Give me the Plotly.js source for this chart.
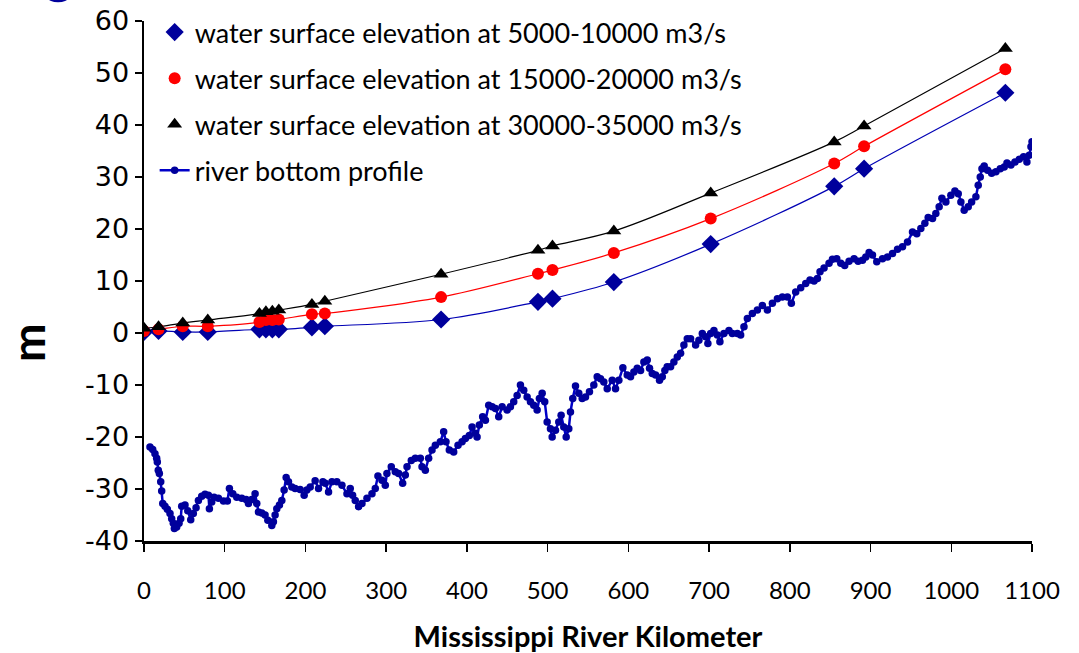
<!DOCTYPE html>
<html>
<head>
<meta charset="utf-8">
<script src="https://cdn.plot.ly/plotly-3.0.1.min.js"></script>
<style>html,body{margin:0;padding:0;background:#fff}</style>
</head>
<body>
<div id="chart" style="width:1079px;height:653px"></div>
<script>
// Gauge stations (river km) where water surface elevations were computed
var stationKm = [0, 18, 48, 79, 143, 151, 159, 167, 208, 224, 368, 488, 506, 582, 702, 855, 892, 1067];

// Water surface elevation (m) for three discharge ranges
var wsLow  = [0.2, 0.4, 0.2, 0.2, 0.7, 0.7, 0.7, 0.7, 1.1, 1.3, 2.6, 6.0, 6.6, 9.8, 17.1, 28.2, 31.6, 46.2];
var wsMid  = [0.4, 0.7, 1.3, 1.3, 2.1, 2.5, 2.5, 2.6, 3.6, 3.75, 6.9, 11.4, 12.1, 15.4, 22.0, 32.6, 35.9, 50.7];
var wsHigh = [0.9, 1.2, 1.9, 2.5, 3.75, 4.1, 4.2, 4.4, 5.5, 6.1, 11.3, 15.9, 16.75, 19.6, 26.9, 36.75, 39.8, 54.7];

// Thalweg (river bottom) survey
var bottomKm = [
  7.4, 10.8, 13.6, 15.7, 16.5, 17.7, 19.0, 20.7, 21.9, 23.2, 26.0, 28.9, 32.2, 34.3, 36.3, 37.6, 40.5, 43.4, 45.5, 46.7,
  50.8, 54.2, 57.9, 61.1, 64.5, 67.4, 71.5, 75.6, 79.8, 81.0, 83.9, 86.8, 92.2, 98.4, 103.3, 105.8, 110.0, 114.9, 121.1, 126.5,
  129.4, 133.5, 137.6, 139.7, 141.8, 145.9, 150.0, 153.4, 158.3, 160.3, 162.4, 164.5, 167.8, 170.7, 173.6, 176.1, 179.0, 183.1, 187.2, 193.4,
  198.4, 201.7, 205.9, 212.0, 216.2, 221.6,
  224.5, 228.6, 232.8, 238.9, 245.2, 251.4, 255.5, 258.4, 261.7, 265.8, 270.0, 276.2, 282.4, 286.5, 289.8, 294.8, 298.9, 300.9,
  306.3, 311.3, 315.4, 320.4, 323.7, 325.8, 331.1, 336.1, 342.3, 344.4, 348.5, 352.6, 356.8, 360.9, 367.1, 371.2, 374.1, 378.2,
  383.6, 389.0, 394.0, 398.1, 403.0, 406.4, 410.5, 412.6, 415.4, 419.5, 422.9, 427.0, 431.2, 435.3, 439.4, 443.6, 449.8, 453.9,
  458.0, 462.2,
  466.3, 470.4, 474.6, 478.7, 482.8, 487.0, 489.8, 493.2, 496.4, 499.4, 503.5, 505.6, 509.7, 513.8, 516.7, 520.0, 523.0, 526.2,
  528.3, 531.1, 534.5, 538.6, 542.8, 546.9, 551.8, 557.2, 561.4, 565.5, 569.6, 573.8, 580.0, 584.1, 588.2, 593.2, 598.6, 602.7,
  606.8, 611.0, 615.1, 619.2, 623.4, 626.2, 629.6, 633.7, 638.6, 642.0, 645.2, 648.1, 652.3, 656.4, 660.6, 664.7, 668.8, 673.0,
  677.1, 683.3, 687.4,
  691.6, 695.7, 698.5, 701.9, 706.0, 710.2, 713.4, 718.4, 724.6, 728.8, 735.0, 739.1, 743.2, 747.4, 753.6, 759.8, 766.0, 772.2,
  778.4, 784.6, 790.8, 797.0, 801.9, 807.3, 813.5, 819.7, 825.0, 830.0, 834.2, 837.4, 842.4, 848.6, 852.8, 858.1, 863.1, 868.0,
  873.4, 879.6, 884.6, 890.0, 894.1, 898.2, 902.4, 907.7,
  914.8, 921.0, 927.2, 933.4, 939.6, 945.8, 952.0, 957.3, 962.3, 967.3, 971.4, 976.8, 980.9, 985.0, 988.4, 993.3, 999.5, 1004.5,
  1008.6, 1011.9, 1016.0, 1021.0, 1025.2, 1030.5, 1033.4, 1035.9, 1038.0, 1040.8, 1045.0, 1050.0, 1055.3, 1060.7, 1065.6, 1069.0,
  1073.9, 1078.9, 1084.2, 1089.6, 1093.7, 1096.6, 1098.7, 1100.0
];
var bottomElev = [
  -21.9, -22.4, -23.2, -24.1, -24.8, -26.4, -27.0, -28.6, -30.4, -32.8, -33.3, -33.9, -34.7, -35.7, -36.6, -37.6, -37.3, -36.6, -35.7, -33.3,
  -33.1, -34.2, -35.9, -34.7, -33.6, -32.2, -31.4, -31.0, -31.2, -33.8, -32.5, -31.6, -31.8, -32.3, -32.3, -29.9, -30.9, -31.6, -31.8, -32.0,
  -32.8, -32.0, -30.9, -32.8, -34.4, -34.6, -35.0, -36.0, -37.0, -36.3, -35.0, -33.8, -33.1, -32.2, -30.2, -27.8, -28.6, -29.6, -29.9, -30.1,
  -31.2, -30.2, -29.6, -28.4, -29.9, -28.6,
  -28.9, -30.6, -28.6, -28.6, -29.3, -30.9, -29.9, -31.2, -32.2, -33.4, -32.8, -31.8, -30.9, -29.9, -27.5, -28.3, -29.3, -27.0,
  -25.7, -26.7, -27.0, -28.9, -27.3, -25.7, -24.5, -24.1, -24.1, -25.7, -26.4, -24.1, -22.5, -21.6, -20.9, -19.0, -20.9, -22.5,
  -22.9, -21.6, -20.9, -20.3, -19.7, -18.1, -19.3, -20.0, -17.7, -16.1, -16.8, -13.9, -14.2, -14.5, -16.1, -14.2, -14.8, -14.2,
  -13.2, -12.0,
  -10.0, -11.0, -12.3, -13.2, -13.9, -14.8, -12.6, -11.6, -13.2, -17.1, -18.4, -20.0, -18.7, -17.1, -15.8, -18.1, -20.0, -18.4,
  -15.2, -12.6, -10.2, -11.6, -12.6, -12.3, -11.3, -10.0, -8.4, -8.8, -9.4, -10.7, -9.1, -10.7, -9.1, -6.7, -8.1, -8.4,
  -7.5, -6.8, -7.2, -5.6, -5.2, -6.8, -7.8, -8.1, -9.1, -8.4, -7.2, -6.5, -6.5, -5.6, -4.6, -3.9, -2.3, -1.1,
  -1.1, -2.3, -1.4,
  -0.1, -0.7, -2.0, -0.1, 0.5, -0.4, -1.7, -0.1, 0.5, -0.1, -0.1, -0.4, 1.2, 2.8, 3.75, 4.4, 5.3, 4.4,
  5.7, 6.6, 6.9, 6.9, 5.7, 7.9, 8.7, 9.5, 10.2, 10.0, 10.5, 11.8, 12.5, 13.4, 14.2, 14.3, 13.4, 13.0,
  13.8, 14.3, 13.8, 14.0, 14.6, 15.5, 15.0, 13.7,
  14.3, 14.6, 15.3, 16.1, 16.6, 17.5, 19.4, 19.1, 20.1, 21.1, 22.2, 22.0, 23.0, 24.3, 25.9, 25.2, 26.5, 27.3,
  26.8, 25.2, 23.6, 24.3, 25.2, 26.2, 28.4, 30.0, 31.6, 32.1, 31.3, 30.7, 31.0, 31.6, 31.9, 32.7,
  32.3, 32.9, 33.4, 33.9, 32.9, 34.2, 35.8, 36.8
];

var seriesNames = [
  'water surface elevation at 5000-10000 m3/s',
  'water surface elevation at 15000-20000 m3/s',
  'water surface elevation at 30000-35000 m3/s',
  'river bottom profile'
];

// Axis ticks, labelled with a plain hyphen for negatives
var yTicks = [-40, -30, -20, -10, 0, 10, 20, 30, 40, 50, 60];
var yTickText = yTicks.map(function (v) { return String(v); });
var xTicks = [0, 100, 200, 300, 400, 500, 600, 700, 800, 900, 1000, 1100];

var NAVY = '#00009C';

function curve(y, color) {
  return {
    x: stationKm, y: y, type: 'scatter', mode: 'lines',
    line: {color: color, width: 1.2, shape: 'spline', smoothing: 1},
    showlegend: false, hoverinfo: 'skip'
  };
}

var traces = [
  curve(wsLow, '#0000B4'),
  curve(wsMid, '#FF0000'),
  curve(wsHigh, '#000000'),
  {
    x: stationKm, y: wsLow, type: 'scatter', mode: 'markers', name: seriesNames[0], legendgroup: 'a',
    marker: {symbol: 'diamond', size: 14, color: NAVY}
  },
  {
    x: stationKm, y: wsMid, type: 'scatter', mode: 'markers', name: seriesNames[1], legendgroup: 'b',
    marker: {symbol: 'circle', size: 12, color: '#FF0000'}
  },
  {
    x: stationKm, y: wsHigh, type: 'scatter', mode: 'markers', name: seriesNames[2], legendgroup: 'c',
    marker: {symbol: 'triangle-up', size: 13, color: '#000000'}
  },
  {
    x: bottomKm, y: bottomElev, type: 'scatter', mode: 'lines+markers', name: seriesNames[3], legendgroup: 'd',
    line: {color: '#0000C8', width: 2.5},
    marker: {symbol: 'circle', size: 7.5, color: NAVY}
  }
];

var layout = {
  width: 1079, height: 653,
  paper_bgcolor: '#ffffff', plot_bgcolor: '#ffffff',
  margin: {l: 144, r: 47, t: 21, b: 112, autoexpand: false},
  font: {family: 'Lato, "Open Sans", sans-serif', color: '#000'},
  showlegend: true,
  legend: {
    x: 0.012, y: 1.025, xanchor: 'left', yanchor: 'top',
    bgcolor: 'rgba(0,0,0,0)', borderwidth: 0,
    font: {family: 'Lato, sans-serif', size: 27, color: '#000'},
    traceorder: 'grouped', tracegroupgap: 8, itemwidth: 30
  },
  xaxis: {
    range: [0, 1100], tickmode: 'array', tickvals: xTicks,
    showgrid: false, zeroline: false,
    showline: true, linecolor: '#000', linewidth: 2.5,
    ticks: 'outside', ticklen: 8, tickwidth: 1.5, tickcolor: '#000',
    ticklabelstandoff: 19,
    tickfont: {family: 'Lato, sans-serif', size: 24, color: '#000'},
    title: {text: 'Mississippi River Kilometer', standoff: 24,
            font: {family: 'Lato, sans-serif', size: 29, color: '#000', weight: 'bold'}}
  },
  yaxis: {
    range: [-40, 60], tickmode: 'array', tickvals: yTicks, ticktext: yTickText,
    showgrid: false, zeroline: false,
    showline: true, linecolor: '#000', linewidth: 2.5,
    ticks: 'outside', ticklen: 7, tickwidth: 1.5, tickcolor: '#000',
    tickfont: {family: '"DejaVu Sans", sans-serif', size: 27, color: '#000'}
  },
  annotations: [{
    text: 'm', xref: 'paper', yref: 'paper', x: -0.131, y: 0.382,
    xanchor: 'center', yanchor: 'middle', textangle: -90, showarrow: false,
    font: {family: 'Lato, sans-serif', size: 46, color: '#000', weight: 'bold'}
  }],
  shapes: [{
    type: 'circle', xref: 'paper', yref: 'paper',
    x0: -0.108, x1: -0.0856, y0: 1.036, y1: 1.052,
    fillcolor: NAVY, line: {width: 0}
  }]
};

Plotly.newPlot('chart', traces, layout, {displayModeBar: false, staticPlot: true});
</script>
</body>
</html>
